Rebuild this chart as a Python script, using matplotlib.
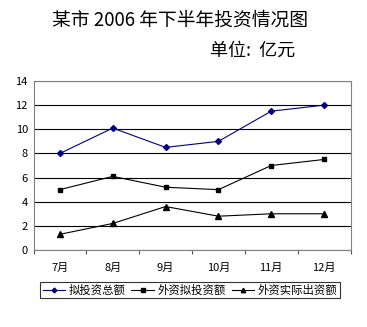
import matplotlib.pyplot as plt
import numpy as np

plt.rcParams['font.family'] = ['Noto Sans CJK SC', 'DejaVu Sans']

months = ['7月', '8月', '9月', '10月', '11月', '12月']
total_plan = [8.0, 10.1, 8.5, 9.0, 11.5, 12.0]
foreign_plan = [5.0, 6.1, 5.2, 5.0, 7.0, 7.5]
foreign_actual = [1.3, 2.2, 3.6, 2.8, 3.0, 3.0]

fig = plt.figure(figsize=(3.67, 3.27), dpi=100)
ax = fig.add_axes([33.5 / 367, 77 / 327, 317 / 367, 169 / 327])

x = np.arange(len(months))
ax.plot(x, total_plan, color='#000080', lw=0.8, marker='D', ms=3, label='拟投资总额')
ax.plot(x, foreign_plan, color='black', lw=0.8, marker='s', ms=3.5, label='外资拟投资额')
ax.plot(x, foreign_actual, color='black', lw=0.8, marker='^', ms=4, label='外资实际出资额')

ax.set_xlim(-0.5, len(months) - 0.5)
ax.set_ylim(0, 14)
ax.set_yticks(range(0, 15, 2))
ax.yaxis.grid(True, color='black', lw=0.8)
ax.set_axisbelow(True)

# category ticks sit between the months, labels centred under each month
ax.set_xticks(np.arange(-0.5, len(months)), minor=False)
ax.set_xticklabels([])
ax.set_xticks(x, minor=True)
ax.set_xticklabels(months, minor=True)
ax.tick_params(axis='x', which='major', length=3, direction='out', color='#555555')
ax.tick_params(axis='x', which='minor', length=0, pad=9, labelsize=8)
ax.tick_params(axis='y', length=0, labelsize=8, pad=4)

for s in ax.spines.values():
    s.set_color('#808080')
    s.set_linewidth(0.8)

fig.text(180 / 367, 1 - 20 / 327, '某市 2006 年下半年投资情况图', ha='center', va='center', fontsize=13.5)
fig.text(253 / 367, 1 - 51 / 327, '单位:  亿元', ha='center', va='center', fontsize=13)

leg = fig.legend(loc='center', bbox_to_anchor=(190 / 367, 1 - 290 / 327), ncol=3,
                 fontsize=8.2, frameon=True, fancybox=False, handlelength=2,
                 handletextpad=0.3, columnspacing=0.5, borderpad=0.2, markerscale=0.8)
leg.get_frame().set_edgecolor('black')
leg.get_frame().set_linewidth(0.8)

fig.savefig('out.png', dpi=100)
